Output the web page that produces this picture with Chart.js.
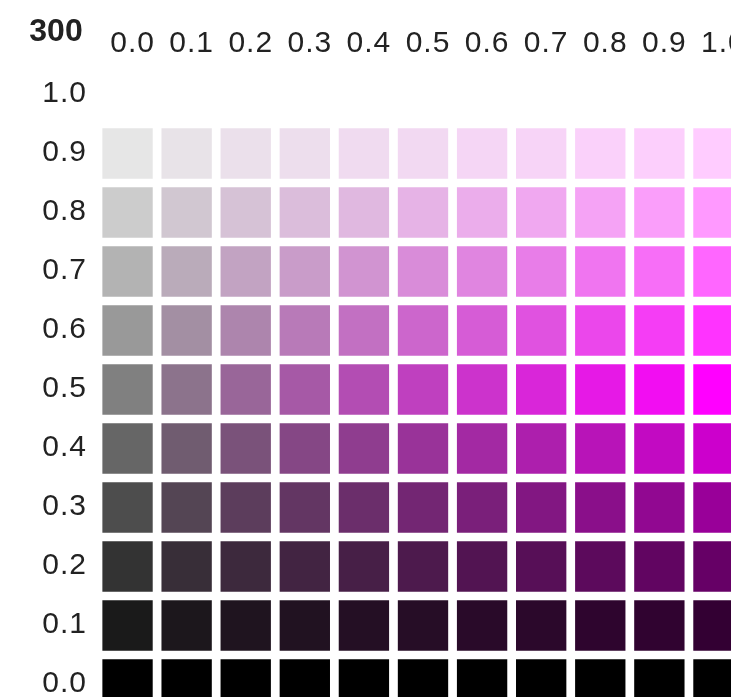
<!DOCTYPE html>
<html>
<head>
<meta charset="utf-8">
<script src="https://cdn.jsdelivr.net/npm/chart.js@4/dist/chart.umd.min.js"></script>
<style>
  html, body { margin: 0; padding: 0; overflow: hidden; background: #fff; }
  canvas { display: block; }
</style>
</head>
<body>
<canvas id="chart" width="748" height="714" style="width:748px;height:714px"></canvas>
<script>
// hue of the panel, saturation along x, lightness along y
const hue = 300;
const saturations = [0.0, 0.1, 0.2, 0.3, 0.4, 0.5, 0.6, 0.7, 0.8, 0.9, 1.0];
const lightnesses = [0.0, 0.1, 0.2, 0.3, 0.4, 0.5, 0.6, 0.7, 0.8, 0.9, 1.0];
const xTickLabels = ["0.0", "0.1", "0.2", "0.3", "0.4", "0.5", "0.6", "0.7", "0.8", "0.9", "1.0"];
const yTickLabels = ["0.0", "0.1", "0.2", "0.3", "0.4", "0.5", "0.6", "0.7", "0.8", "0.9", "1.0"];

const cells = [];
lightnesses.forEach(l => {
  saturations.forEach(s => {
    cells.push({ x: s, y: l });
  });
});
const cellColor = (p) => `hsl(${hue}, ${p.x * 100}%, ${p.y * 100}%)`;

const tickFont = { family: "'Liberation Sans', Arial, sans-serif", size: 30 };

// no extra room for edge labels, keep the grid pitch fixed
const noPadding = (scale) => {
  scale.paddingLeft = 0;
  scale.paddingRight = 0;
  scale.paddingTop = 0;
  scale.paddingBottom = 0;
};

const hueLabel = {
  id: "hueLabel",
  beforeDraw(chart) {
    // the tick labels in the original are a little more spread out
    chart.ctx.letterSpacing = "1px";
  },
  afterDraw(chart) {
    const ctx = chart.ctx;
    ctx.save();
    ctx.letterSpacing = "0px";
    ctx.font = "bold 32px 'Liberation Sans', Arial, sans-serif";
    ctx.fillStyle = "#222";
    ctx.textAlign = "center";
    ctx.textBaseline = "middle";
    ctx.fillText(String(hue), 56, 32);
    ctx.restore();
  }
};

new Chart(document.getElementById("chart"), {
  type: "scatter",
  data: {
    datasets: [{
      data: cells,
      pointStyle: "rect",
      pointRadius: 35.6,
      pointHoverRadius: 35.6,
      borderWidth: 0,
      backgroundColor: (c) => cellColor(c.raw),
    }]
  },
  options: {
    responsive: false,
    animation: false,
    devicePixelRatio: 1,
    layout: { padding: 0, autoPadding: false },
    plugins: { legend: { display: false }, tooltip: { enabled: false } },
    scales: {
      x: {
        type: "linear",
        position: "top",
        min: -0.05,
        max: 1.05,
        border: { display: false },
        grid: { display: false, drawTicks: false },
        afterFit: (scale) => { scale.height = 65; noPadding(scale); },
        afterBuildTicks: (scale) => { scale.ticks = saturations.map(v => ({ value: v })); },
        ticks: {
          callback: (v, i) => xTickLabels[i],
          font: tickFont,
          color: "#222",
          padding: 3,
          labelOffset: 5,
          maxRotation: 0,
          autoSkip: false
        }
      },
      y: {
        type: "linear",
        min: -0.05,
        max: 1.05,
        border: { display: false },
        grid: { display: false, drawTicks: false },
        afterFit: (scale) => { scale.width = 98; noPadding(scale); },
        afterBuildTicks: (scale) => { scale.ticks = lightnesses.map(v => ({ value: v })); },
        ticks: {
          callback: (v, i) => yTickLabels[i],
          font: tickFont,
          color: "#222",
          padding: 11,
          labelOffset: -1,
          autoSkip: false
        }
      }
    }
  },
  plugins: [hueLabel]
});
</script>
</body>
</html>
